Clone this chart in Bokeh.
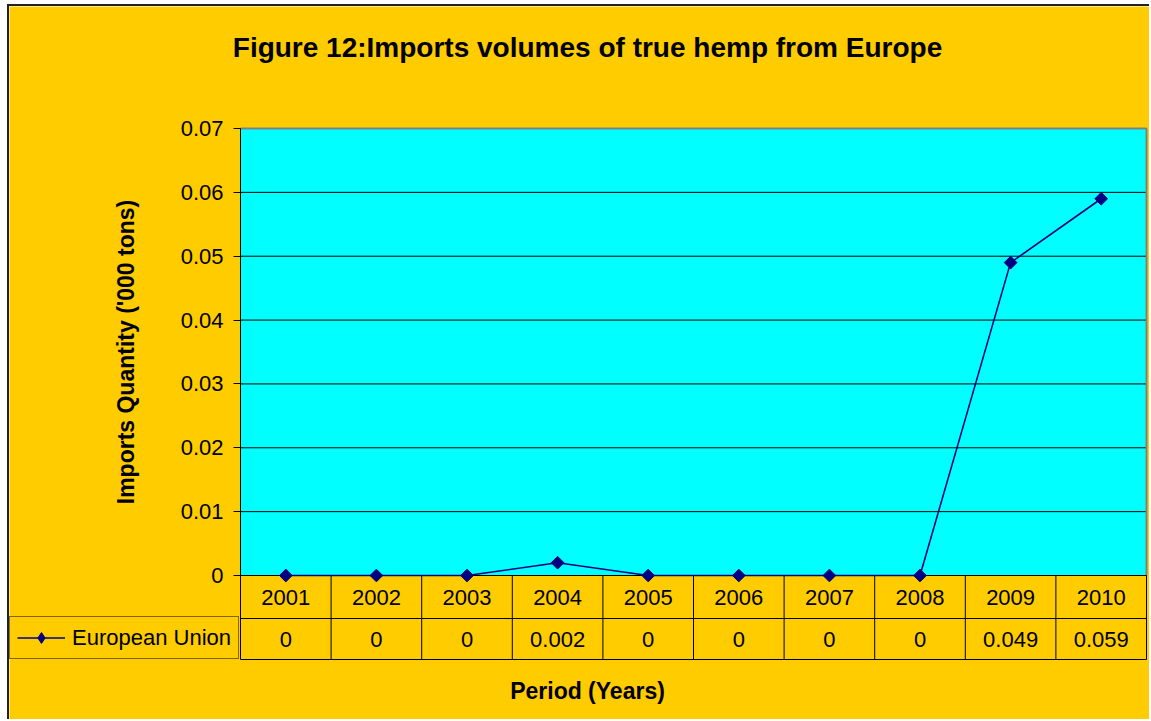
import math
from bokeh.plotting import figure
from bokeh.models import Range1d, FixedTicker, Legend, LegendItem
from bokeh.embed import file_html
from bokeh.resources import INLINE
from bokeh.core.properties import value

# ---- data ----
years = ["2001", "2002", "2003", "2004", "2005", "2006", "2007", "2008", "2009", "2010"]
eu_values = [0, 0, 0, 0.002, 0, 0, 0, 0, 0.049, 0.059]
y_ticks = [0, 0.01, 0.02, 0.03, 0.04, 0.05, 0.06, 0.07]
y_tick_labels = ["0", "0.01", "0.02", "0.03", "0.04", "0.05", "0.06", "0.07"]
series_name = "European Union"
title_text = "Figure 12:Imports volumes of true hemp from Europe"
y_title = "Imports Quantity ('000 tons)"
x_title = "Period (Years)"

# ---- styling / layout (pixels) ----
YELLOW = "#FFCC00"
CYAN = "#00FFFF"
NAVY = "#000080"
GRAY = "#808080"
FONT = "Liberation Sans"

W, H = 1142, 715
PLOT_L, PLOT_R = 231, 1137       # cyan area, canvas pixels
PLOT_T, PLOT_B = 122, 569
TABLE_B = 653                    # bottom of data table
ROW_MID1, ROW_SPLIT, ROW_MID2 = 22, 43, 64   # px below the zero line

n = len(years)
ymax = y_ticks[-1]
px_col = (PLOT_R - PLOT_L) / n
px_y = (PLOT_B - PLOT_T) / ymax
x_start = -PLOT_L / px_col
x_end = n + (W - PLOT_R) / px_col
y_end = ymax + PLOT_T / px_y
y_start = -(H - PLOT_B) / px_y
y_row = -ROW_SPLIT / px_y
y_tab = -(TABLE_B - PLOT_B) / px_y

xs = [i + 0.5 for i in range(n)]

p = figure(width=W, height=H, output_backend="svg", toolbar_location=None,
           x_range=Range1d(x_start, x_end), y_range=Range1d(y_start, y_end),
           x_axis_location=None, min_border=0, min_border_left=0, min_border_right=0,
           min_border_top=0, min_border_bottom=0,
           background_fill_color=YELLOW, border_fill_color=YELLOW,
           styles={"margin-left": "7px", "margin-top": "4px",
                   "border-left": "2px solid #222", "border-top": "2px solid #222"})
p.outline_line_color = None
p.xgrid.visible = False
p.ygrid.visible = False

# y axis, fixed at x = 0 (left edge of the plot area)
p.yaxis.fixed_location = 0
p.yaxis.ticker = FixedTicker(ticks=y_ticks)
p.yaxis.major_label_overrides = {t: l for t, l in zip(y_ticks, y_tick_labels)}
p.yaxis.major_tick_out = 7
p.yaxis.major_tick_in = 0
p.yaxis.minor_tick_line_color = None
p.yaxis.axis_line_color = None
p.yaxis.major_tick_line_color = "black"
p.yaxis.major_label_text_font = FONT
p.yaxis.major_label_text_font_size = "22px"
p.yaxis.major_label_text_color = "black"
p.yaxis.major_label_standoff = 10

# plot area
p.quad(left=[0], right=[n], bottom=[0], top=[ymax], fill_color=CYAN, line_color=None)
p.segment(x0=[0] * len(y_ticks), x1=[n] * len(y_ticks), y0=y_ticks, y1=y_ticks,
          line_color="black", line_width=1)
p.segment(x0=[0, n], x1=[n, n], y0=[ymax, ymax], y1=[ymax, 0], line_color=GRAY, line_width=2)

# data table lines
p.segment(x0=[0, 0, 0], x1=[n, n, n], y0=[0, y_row, y_tab], y1=[0, y_row, y_tab],
          line_color="black", line_width=1)
p.segment(x0=list(range(0, n + 1)), x1=list(range(0, n + 1)), y0=[ymax] + [0] * n,
          y1=[y_tab] * (n + 1), line_color="black", line_width=1)

# data table texts
p.text(x=xs, y=[0] * n, text=years, y_offset=ROW_MID1, text_align="center",
       text_baseline="middle", text_font=value(FONT), text_font_size="22px", text_color="black")
p.text(x=xs, y=[0] * n, text=[f"{v:g}" for v in eu_values], y_offset=ROW_MID2,
       text_align="center", text_baseline="middle", text_font=value(FONT),
       text_font_size="22px", text_color="black")

# series
lr = p.line(xs, eu_values, line_color=NAVY, line_width=1.6)
# legend key marker (diamond as in the reference legend); hidden under the first point
key = p.scatter(xs[:1], eu_values[:1], marker="diamond", size=12, fill_color=NAVY, line_color=NAVY)
sr = p.scatter(xs, eu_values, marker="square", angle=math.pi / 4, size=9,
               fill_color=NAVY, line_color=NAVY)

legend = Legend(items=[LegendItem(label=series_name, renderers=[lr, key])],
                location=(0, H - TABLE_B), orientation="vertical",
                glyph_width=48, glyph_height=27, label_height=27, label_standoff=7,
                padding=7, spacing=0, margin=0,
                label_text_font=FONT, label_text_font_size="22px", label_text_color="black",
                border_line_color="black", border_line_width=1,
                background_fill_alpha=0)
p.add_layout(legend)

# titles
p.text(x=[0], y=[ymax], text=[title_text], x_offset=347, y_offset=-81,
       text_align="center", text_baseline="middle", text_font=value(FONT),
       text_font_size="28px", text_font_style="bold", text_color="black")
p.text(x=[0], y=[ymax / 2], text=[y_title], x_offset=-115, angle=math.pi / 2,
       text_align="center", text_baseline="middle", text_font=value(FONT),
       text_font_size="23px", text_font_style="bold", text_color="black")
p.text(x=[0], y=[0], text=[x_title], x_offset=347, y_offset=115,
       text_align="center", text_baseline="middle", text_font=value(FONT),
       text_font_size="23px", text_font_style="bold", text_color="black")

open("out.html", "w").write(file_html(p, INLINE))
